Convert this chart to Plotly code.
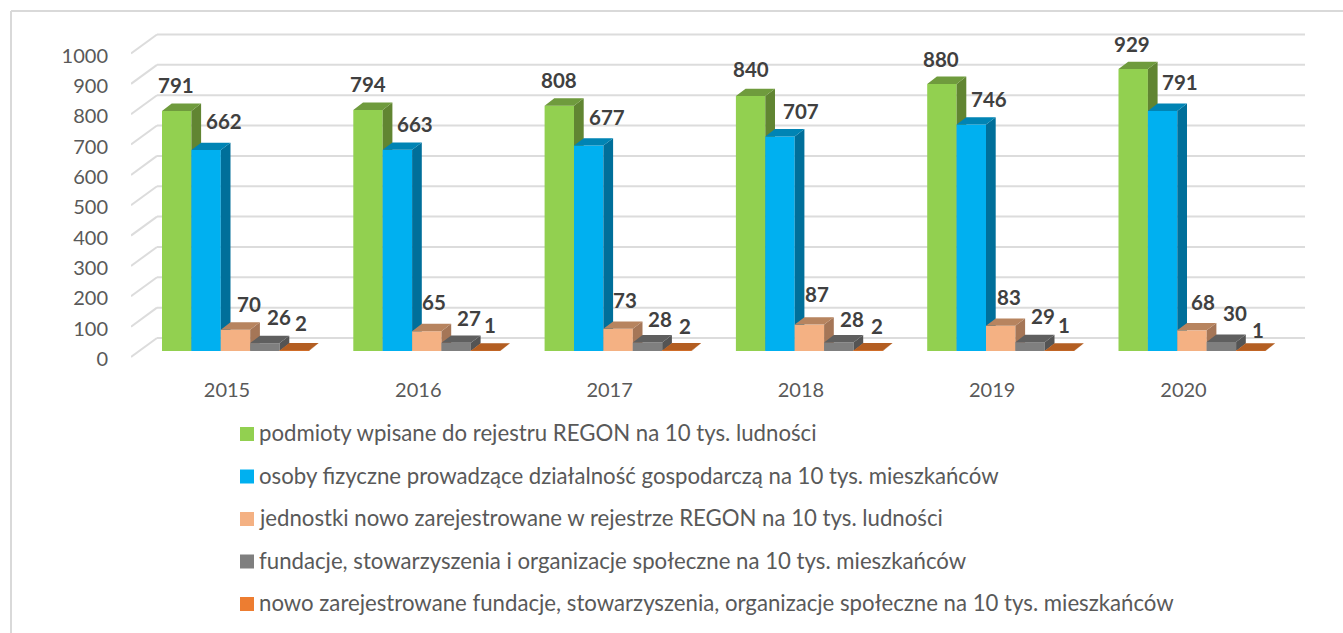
import plotly.graph_objects as go

# ---------- data ----------
years = ["2015", "2016", "2017", "2018", "2019", "2020"]
podmioty = [791, 794, 808, 840, 880, 929]
osoby = [662, 663, 677, 707, 746, 791]
jednostki = [70, 65, 73, 87, 83, 68]
fundacje = [26, 27, 28, 28, 29, 30]
nowe_fundacje = [2, 1, 2, 2, 1, 1]
y_ticks = [0, 100, 200, 300, 400, 500, 600, 700, 800, 900, 1000]
names = [
    "podmioty wpisane do rejestru REGON na 10 tys. ludności",
    "osoby fizyczne prowadzące działalność gospodarczą na 10 tys. mieszkańców",
    "jednostki nowo zarejestrowane w rejestrze REGON na 10 tys. ludności",
    "fundacje, stowarzyszenia i organizacje społeczne na 10 tys. mieszkańców",
    "nowo zarejestrowane fundacje, stowarzyszenia, organizacje społeczne na 10 tys. mieszkańców",
]
series = [podmioty, osoby, jednostki, fundacje, nowe_fundacje]

# ---------- style ----------
W, H = 1343, 633
L, R, T, B = 131, 38, 30, 263
PX_PER_UNIT = 0.3035
GROUP_PX = 191.3
BAR_PX = 29.4
ZERO_PX = 359
FONT = "Lato"
front = ["#92D050", "#00B0F0", "#F4B183", "#7F7F7F", "#ED7D31"]
top = ["#6F9B3D", "#0084B4", "#B7845F", "#5F5F5F", "#B35E22"]
side = ["#618532", "#006F9A", "#A57657", "#545454", "#A4571F"]
legend_colors = front
GRID = "#DCDCDC"
TEXT = "#595959"
LABEL = "#404040"

# label nudges from the top-centre of each bar (pixels: right, up), per series then year
nudges = [
    [(-1, 26), (0, 26), (0, 26), (0, 27), (-1, 25), (-1, 25)],
    [(18, 29), (18, 26), (18, 29), (21, 25), (18, 26), (17, 29)],
    [(13, 26), (7, 29), (7, 29), (8, 31), (8, 29), (11, 28)],
    [(14, 26), (13, 25), (12, 24), (13, 24), (13, 26), (14, 29)],
    [(7, 27), (4, 26), (8, 24), (9, 24), (4, 26), (7, 21)],
]

# scales: x unit = one category, y unit = value
ux = 1 / GROUP_PX
uy = 1 / PX_PER_UNIT
x_lo = (L - 227) * ux
x_hi = (W - R - 227) * ux
y_lo = (ZERO_PX - (H - B)) * uy
y_hi = (ZERO_PX - T) * uy
BAR_BASE = 8 * uy             # bars stand 8 px above the tick-label plane
DX, DY = 9.7 * ux, 7.4 * uy   # bar depth
WALL_START = 2 * uy           # grid lines start 2 px above the tick labels' centres
WALL_DX, WALL_DY = 26 * ux, 21 * uy
FIRST_BAR = (162 - 227) * ux
BAR_W = BAR_PX * ux


def poly(points):
    xs, ys = [], []
    for pts in points:
        xs += [p[0] for p in pts] + [None]
        ys += [p[1] for p in pts] + [None]
    return xs, ys


fig = go.Figure()
annotations = []
for k, (vals, name) in enumerate(zip(series, names)):
    xc = [i + FIRST_BAR + BAR_W * (k + 0.5) for i in range(len(years))]
    fig.add_trace(go.Bar(x=xc, y=vals, base=BAR_BASE, width=BAR_W, name=name,
                         marker=dict(color=front[k], line=dict(width=0)),
                         zorder=3 * k, showlegend=False))
    tops, sides = [], []
    for c, v in zip(xc, vals):
        x0, x1 = c - BAR_W / 2, c + BAR_W / 2
        yb, yt = BAR_BASE, BAR_BASE + v
        tops.append([(x0, yt), (x1, yt), (x1 + DX, yt + DY), (x0 + DX, yt + DY), (x0, yt)])
        sides.append([(x1, yt), (x1 + DX, yt + DY), (x1 + DX, yb + DY), (x1, yb), (x1, yt)])
    for pts, col, z in ((sides, side[k], 3 * k + 1), (tops, top[k], 3 * k + 2)):
        xs, ys = poly(pts)
        fig.add_trace(go.Scatter(x=xs, y=ys, mode="lines", fill="toself", fillcolor=col,
                                 line=dict(width=0, color=col), hoverinfo="skip",
                                 showlegend=False, zorder=z))
    for i, (c, v) in enumerate(zip(xc, vals)):
        annotations.append(dict(x=c, y=BAR_BASE + v, xref="x", yref="y", text=str(v),
                                showarrow=False, xanchor="center", yanchor="middle",
                                xshift=nudges[k][i][0], yshift=nudges[k][i][1],
                                font=dict(family=FONT, size=20.5, color=LABEL, weight=700)))


def px(x):
    return (x - L) / (W - L - R)


def py(y):
    return 1 - (y - T) / (H - T - B)


shapes = []
# back-wall grid
for t in y_ticks:
    shapes.append(dict(type="line", xref="x", yref="y", layer="below",
                       x0=x_lo, y0=t + WALL_START, x1=x_lo + WALL_DX, y1=t + WALL_DY,
                       line=dict(color=GRID, width=2)))
    shapes.append(dict(type="line", xref="x", yref="y", layer="below",
                       x0=x_lo + WALL_DX, y0=t + WALL_DY, x1=x_hi, y1=t + WALL_DY,
                       line=dict(color=GRID, width=2)))
# outer frame
shapes.append(dict(type="line", xref="paper", yref="paper", layer="below",
                   x0=px(11), x1=px(11), y0=py(11), y1=py(H), line=dict(color="#D9D9D9", width=2)))
shapes.append(dict(type="line", xref="paper", yref="paper", layer="below",
                   x0=px(11), x1=px(W), y0=py(11), y1=py(11), line=dict(color="#D9D9D9", width=2)))

# legend
LEG_Y0, LEG_STEP = 434, 42.5
for k, name in enumerate(names):
    yc = LEG_Y0 + k * LEG_STEP
    shapes.append(dict(type="rect", xref="paper", yref="paper", x0=px(240), x1=px(254),
                       y0=py(yc - 7), y1=py(yc + 7), fillcolor=legend_colors[k], line=dict(width=0)))
    annotations.append(dict(x=px(257), y=py(yc - 1.5), xref="paper", yref="paper", text=name,
                            showarrow=False, xanchor="left", yanchor="middle",
                            font=dict(family=FONT, size=22.2, color=TEXT)))

fig.update_layout(
    width=W, height=H, autosize=False, barmode="overlay",
    margin=dict(l=L, r=R, t=T, b=B, pad=0),
    paper_bgcolor="white", plot_bgcolor="white",
    font=dict(family=FONT, size=20, color=TEXT),
    showlegend=False, shapes=shapes, annotations=annotations,
    xaxis=dict(range=[x_lo, x_hi], tickmode="array", tickvals=list(range(len(years))),
               ticktext=years, showgrid=False, zeroline=False, showline=False,
               ticks="", ticklabelstandoff=6, tickfont=dict(family=FONT, size=20, color=TEXT)),
    yaxis=dict(range=[y_lo, y_hi], tickmode="array", tickvals=y_ticks,
               ticktext=[str(t) for t in y_ticks], showgrid=False, zeroline=False,
               showline=False, ticks="", ticklabelstandoff=22,
               tickfont=dict(family=FONT, size=20, color=TEXT)),
)
fig.write_html("out.html", config={"displayModeBar": False},
               post_script="document.body.style.margin='0';document.body.style.overflow='hidden';")
